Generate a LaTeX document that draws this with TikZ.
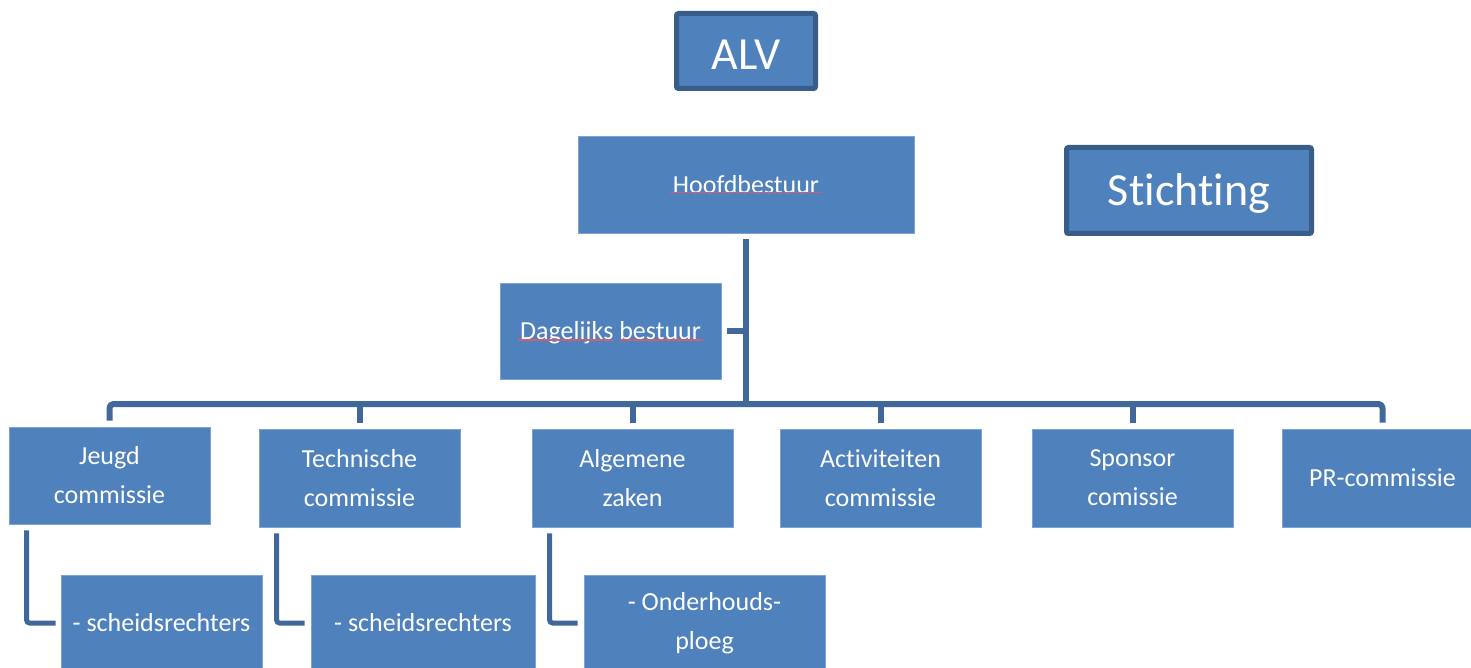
\documentclass[tikz,border=0pt]{standalone}
\usepackage{fontspec}
\setmainfont[RawFeature={-liga}]{Carlito}
\usetikzlibrary{calc}
\definecolor{boxfill}{HTML}{4F81BD}
\definecolor{boxedge}{HTML}{7EA4D3}
\definecolor{darkedge}{HTML}{385D8A}
\definecolor{connc}{HTML}{41689A}
\definecolor{spell}{HTML}{C8607A}
\newcommand{\lowertext}[2]{\raisebox{0pt}[\dimexpr\height+#1\relax][\depth]{#2}}
\tikzset{
  box/.style={draw=boxedge, line width=0.8pt, fill=boxfill, text=white, inner sep=0pt,
    align=center, font=\fontsize{26}{39}\selectfont},
  bigbox/.style={draw=darkedge, line width=5pt, fill=boxfill, text=white, inner sep=0pt,
    rounded corners=2pt, font=\fontsize{46}{50}\selectfont},
  conn/.style={draw=connc, line width=6pt, line join=round},
  subconn/.style={draw=connc, line width=5pt, rounded corners=3pt},
  spellline/.style={draw=spell, line width=1.2pt}
}
\begin{document}
\begin{tikzpicture}[x=1pt,y=-1pt]
\useasboundingbox (0,0) rectangle (1471,668);
\clip (0,0) rectangle (1471,668);
% top boxes
\node[bigbox, minimum width=139pt, minimum height=75pt] (alv) at (746,51) {\lowertext{8pt}{ALV}};
\node[bigbox, minimum width=245pt, minimum height=86pt] (stichting) at (1189,190.5) {\lowertext{5pt}{Stichting}};
\node[box, minimum width=336pt, minimum height=97pt] (hoofd) at (746,184.5) {Hoofdbestuur};
\node[box, minimum width=221pt, minimum height=96pt] (dag) at (610.5,331) {\lowertext{4pt}{Dagelijks bestuur}};
% commission row
\node[box, minimum width=201pt, minimum height=97pt] (jeugd) at (109.5,475.5) {Jeugd\\commissie};
\node[box, minimum width=201pt, minimum height=98pt] (tech) at (359.5,478) {Technische\\commissie};
\node[box, minimum width=201pt, minimum height=98pt] (alg) at (632.5,478) {Algemene\\zaken};
\node[box, minimum width=201pt, minimum height=98pt] (act) at (880.5,478) {Activiteiten\\commissie};
\node[box, minimum width=201pt, minimum height=98pt] (spon) at (1132.5,478) {Sponsor\\comissie};
\node[box, minimum width=201pt, minimum height=98pt] (pr) at (1382.5,478) {PR-commissie};
% sub boxes
\node[box, minimum width=201pt, minimum height=96pt] (s1) at (161.5,623) {- scheidsrechters};
\node[box, minimum width=224pt, minimum height=96pt] (s2) at (423,623) {- scheidsrechters};
\node[box, minimum width=241pt, minimum height=96pt] (s3) at (704.5,623) {- Onderhouds-\\ploeg};
% spell-check underlines
\draw[spellline] ($(hoofd.center)+(-76,8)$) -- ($(hoofd.center)+(76,8)$);
\draw[spellline] ($(dag.center)+(-92.5,9)$) -- ($(dag.center)+(2.5,9)$);
\draw[spellline] ($(dag.center)+(9.5,9)$) -- ($(dag.center)+(92.5,9)$);
% connectors
\coordinate (bus) at (746,404);
\draw[conn, rounded corners=4pt] ([yshift=6pt]jeugd.north) |- (bus) -| ([yshift=6pt]pr.north);
\draw[conn] ([yshift=-6pt]hoofd.south) -- (bus);
\draw[conn] ([xshift=6pt]dag.east) -- (dag.east -| bus);
\draw[conn] ([yshift=6pt]tech.north) -- (tech.north |- bus);
\draw[conn] ([yshift=6pt]alg.north) -- (alg.north |- bus);
\draw[conn] ([yshift=6pt]act.north) -- (act.north |- bus);
\draw[conn] ([yshift=6pt]spon.north) -- (spon.north |- bus);
\draw[subconn] ([xshift=18pt,yshift=-6pt]jeugd.south west) |- ([xshift=-5pt]s1.west);
\draw[subconn] ([xshift=18pt,yshift=-6pt]tech.south west) |- ([xshift=-6pt]s2.west);
\draw[subconn] ([xshift=18pt,yshift=-6pt]alg.south west) |- ([xshift=-6pt]s3.west);
\end{tikzpicture}
\end{document}
